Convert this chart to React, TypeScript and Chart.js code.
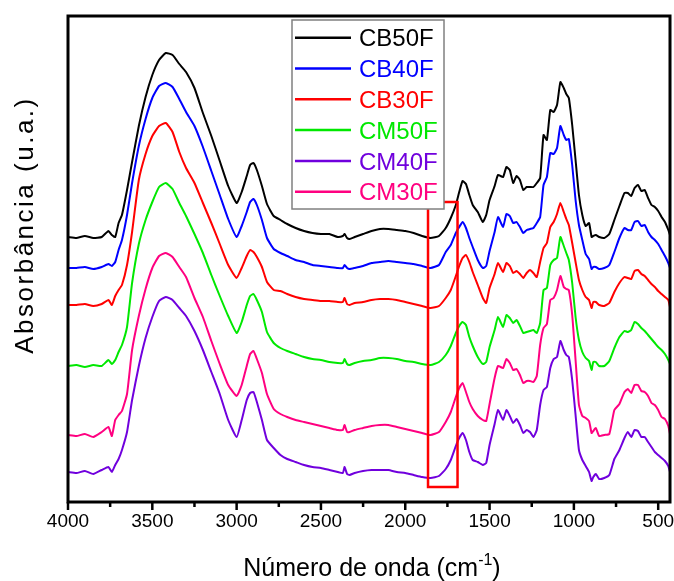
import React, { useEffect, useRef } from 'react';
import { Chart, registerables } from 'chart.js';

Chart.register(...registerables);

// Wavenumbers (cm-1)
const WAVENUMBERS = [
  4000, 3950, 3900, 3850, 3800, 3760, 3740, 3720, 3700, 3680,
  3650, 3620, 3580, 3540, 3500, 3460, 3420, 3380, 3340, 3300,
  3250, 3200, 3150, 3100, 3050, 3000, 2970, 2940, 2920, 2900,
  2880, 2850, 2820, 2780, 2740, 2700, 2650, 2600, 2550, 2500,
  2450, 2400, 2370, 2360, 2345, 2330, 2300, 2250, 2200, 2150,
  2100, 2050, 2000, 1950, 1900, 1850, 1800, 1760, 1730, 1700,
  1680, 1660, 1640, 1620, 1600, 1570, 1540, 1520, 1500, 1470,
  1450, 1420, 1400, 1380, 1360, 1340, 1320, 1300, 1280, 1260,
  1240, 1220, 1200, 1180, 1160, 1140, 1120, 1100, 1080, 1060,
  1045, 1030, 1010, 990, 970, 950, 930, 910, 895, 885,
  870, 850, 820, 790, 760, 730, 700, 680, 660, 640,
  620, 600, 580, 560, 540, 520, 500, 480, 460, 440,
  430,
];

// Absorbance (arbitrary units, spectra vertically offset)
const CB50F = [
  265, 264, 266, 264, 265, 271, 267, 265, 279, 287,
  312, 340, 376, 405, 427, 442, 449, 447, 438, 430,
  414, 389, 366, 341, 316, 299, 310, 326, 337, 339,
  332, 316, 298, 286, 282, 278, 274, 271, 269, 268,
  268, 265, 266, 268, 264, 263, 265, 268, 271, 273,
  273, 272, 271, 269, 266, 264, 266, 274, 284, 297,
  310, 321, 318, 307, 297, 290, 280, 287, 302, 316,
  327, 325, 335, 332, 319, 326, 322, 312, 315, 315,
  315, 319, 324, 367, 362, 392, 390, 397, 420, 414,
  408, 404, 377, 342, 307, 287, 276, 279, 265, 266,
  267, 265, 264, 268, 282, 296, 309, 309, 306, 314,
  317, 311, 312, 304, 297, 295, 291, 285, 280, 272,
  267,
];
const CB40F = [
  234, 234, 235, 233, 235, 238, 236, 240, 252, 262,
  287, 319, 356, 383, 404, 416, 419, 415, 403, 390,
  376, 355, 331, 307, 283, 265, 276, 290, 300, 303,
  297, 282, 264, 253, 249, 246, 242, 240, 237, 236,
  235, 234, 234, 237, 234, 233, 234, 236, 239, 240,
  241, 240, 239, 238, 236, 234, 237, 250, 257, 269,
  275, 280, 274, 264, 255, 242, 234, 236, 251, 270,
  285, 275, 288, 286, 279, 280, 275, 269, 272, 273,
  274, 279, 285, 317, 325, 349, 348, 354, 376, 367,
  362, 363, 337, 302, 277, 262, 248, 243, 233, 235,
  235, 233, 234, 237, 250, 264, 274, 272, 272, 280,
  281, 276, 277, 270, 265, 262, 258, 252, 246, 239,
  234,
];
const CB30F = [
  197, 197, 198, 196, 198, 202, 197, 206, 212, 217,
  237, 270, 322, 348, 366, 376, 379, 370, 350, 334,
  319, 299, 279, 258, 237, 224, 234, 246, 252, 250,
  245, 235, 220, 212, 211, 208, 205, 203, 202, 201,
  201, 200, 200, 204, 198, 197, 199, 200, 202, 203,
  203, 202, 200, 198, 196, 194, 196, 204, 212, 226,
  236, 244, 247, 240, 230, 217, 204, 199, 214, 228,
  239, 230, 239, 236, 229, 231, 228, 224, 229, 232,
  229, 225, 240, 254, 259, 275, 280, 288, 299, 290,
  283, 277, 259, 240, 222, 212, 205, 202, 194, 200,
  200, 197, 196, 199, 210, 219, 225, 224, 223, 231,
  232, 228, 226, 222, 218, 215, 211, 208, 205, 202,
  195,
];
const CM50F = [
  136, 137, 135, 137, 136, 142, 138, 142, 150, 157,
  175, 219, 258, 282, 300, 315, 319, 313, 299, 286,
  268, 249, 227, 206, 186, 169, 180, 197, 206, 208,
  202, 190, 170, 159, 154, 151, 148, 145, 143, 142,
  140, 139, 139, 143, 138, 137, 139, 141, 142, 144,
  144, 143, 141, 140, 138, 137, 140, 147, 156, 169,
  176, 180, 177, 165, 156, 145, 138, 140, 155, 172,
  185, 175, 187, 184, 179, 182, 176, 169, 170, 171,
  172, 169, 179, 212, 214, 237, 242, 244, 265, 256,
  249, 242, 219, 185, 162, 150, 144, 141, 132, 140,
  140, 136, 136, 141, 154, 165, 171, 170, 172, 180,
  178, 174, 171, 167, 163, 159, 155, 152, 148, 142,
  138,
];
const CM40F = [
  30, 29, 31, 28, 32, 35, 30, 37, 43, 52,
  70, 102, 136, 164, 185, 201, 205, 202, 194, 186,
  171, 152, 130, 108, 82, 65, 82, 102, 109, 110,
  100, 82, 62, 54, 47, 43, 40, 37, 35, 34,
  32, 30, 29, 35, 28, 27, 29, 31, 32, 32,
  32, 30, 29, 27, 25, 24, 26, 33, 42, 56,
  64, 69, 62, 50, 42, 40, 37, 39, 57, 78,
  92, 82, 92, 86, 79, 83, 77, 69, 72, 70,
  65, 72, 97, 112, 115, 134, 143, 145, 161, 152,
  147, 145, 122, 87, 52, 42, 36, 30, 21, 25,
  28, 23, 24, 27, 43, 52, 64, 70, 65, 72,
  71, 65, 65, 60, 55, 50, 47, 44, 41, 36,
  30,
];
const CM30F = [
  67, 66, 68, 65, 70, 75, 66, 82, 87, 91,
  108, 152, 186, 213, 234, 246, 249, 245, 235, 225,
  204, 185, 161, 138, 117, 106, 117, 136, 148, 151,
  143, 129, 108, 93, 88, 85, 82, 80, 78, 76,
  74, 72, 72, 77, 70, 70, 72, 74, 76, 77,
  77, 75, 73, 71, 69, 67, 70, 80, 90, 105,
  114, 119, 110, 100, 93, 86, 82, 81, 98, 124,
  136, 134, 143, 139, 132, 133, 127, 119, 121, 121,
  120, 126, 157, 174, 178, 202, 204, 212, 226, 215,
  213, 212, 187, 142, 97, 86, 84, 81, 69, 71,
  74, 66, 67, 68, 92, 98, 110, 113, 109, 117,
  117, 111, 110, 106, 99, 97, 92, 85, 83, 76,
  68,
];

const SERIES_LABELS = ['CB50F', 'CB40F', 'CB30F', 'CM50F', 'CM40F', 'CM30F'];
const SERIES_VALUES = [CB50F, CB40F, CB30F, CM50F, CM40F, CM30F];
const SERIES_COLORS = ['#000000', '#0000FF', '#FF0000', '#00E800', '#7000DD', '#FF0080'];

const X_MIN = 430;
const X_MAX = 4000;
const Y_MIN = 0;
const Y_MAX = 486;
const X_TICK_STEP = 250;
const X_LABEL_STEP = 500;
const HIGHLIGHT_X = [1865, 1690];
const HIGHLIGHT_Y = [15, 300];

const X_TITLE = 'Número de onda (cm';
const X_TITLE_SUP = '-1';
const Y_TITLE = 'Absorbância (u.a.)';
const FONT = "'Liberation Sans', Arial, sans-serif";

const decorPlugin = {
  id: 'decor',
  afterDatasetsDraw(chart: any) {
    const { ctx, scales } = chart;
    const x = scales.x;
    const y = scales.y;
    ctx.save();
    const rx1 = x.getPixelForValue(HIGHLIGHT_X[0]);
    const rx2 = x.getPixelForValue(HIGHLIGHT_X[1]);
    const ry1 = y.getPixelForValue(HIGHLIGHT_Y[1]);
    const ry2 = y.getPixelForValue(HIGHLIGHT_Y[0]);
    ctx.strokeStyle = '#FF0000';
    ctx.lineWidth = 2.5;
    ctx.strokeRect(rx1, ry1, rx2 - rx1, ry2 - ry1);
    ctx.restore();
  },
  afterDraw(chart: any) {
    const { ctx, chartArea, scales } = chart;
    const { left, right, top, bottom } = chartArea;
    const x = scales.x;
    ctx.save();
    // frame
    ctx.strokeStyle = '#000';
    ctx.lineWidth = 3;
    ctx.strokeRect(left, top, right - left, bottom - top);
    // ticks
    ctx.lineWidth = 2.5;
    x.ticks.forEach((t: any) => {
      const px = x.getPixelForValue(t.value);
      const major = t.value % X_LABEL_STEP === 0;
      ctx.beginPath();
      ctx.moveTo(px, bottom);
      ctx.lineTo(px, bottom + (major ? 8 : 5));
      ctx.stroke();
    });
    // legend
    const lx = 292, ly = 20, lw = 152, lh = 189;
    ctx.fillStyle = '#fff';
    ctx.fillRect(lx, ly, lw, lh);
    ctx.strokeStyle = '#808080';
    ctx.lineWidth = 1.5;
    ctx.strokeRect(lx, ly, lw, lh);
    ctx.font = `24px ${FONT}`;
    ctx.textBaseline = 'alphabetic';
    ctx.textAlign = 'left';
    SERIES_LABELS.forEach((lab, i) => {
      const cy = 37.7 + i * 30.8;
      ctx.strokeStyle = SERIES_COLORS[i];
      ctx.lineWidth = 2.5;
      ctx.beginPath();
      ctx.moveTo(295, cy);
      ctx.lineTo(351, cy);
      ctx.stroke();
      ctx.fillStyle = SERIES_COLORS[i];
      ctx.fillText(lab, 359, cy + 8.6);
    });
    // x title
    ctx.fillStyle = '#000';
    ctx.font = `25px ${FONT}`;
    const w1 = ctx.measureText(X_TITLE).width;
    ctx.font = `16px ${FONT}`;
    const w2 = ctx.measureText(X_TITLE_SUP).width;
    ctx.font = `25px ${FONT}`;
    const w3 = ctx.measureText(')').width;
    const cx = 372;
    let sx = cx - (w1 + w2 + w3) / 2;
    const base = 576;
    ctx.fillText(X_TITLE, sx, base);
    sx += w1;
    ctx.font = `16px ${FONT}`;
    ctx.fillText(X_TITLE_SUP, sx, base - 11);
    sx += w2;
    ctx.font = `25px ${FONT}`;
    ctx.fillText(')', sx, base);
    // y title
    ctx.translate(33, 225);
    ctx.rotate(-Math.PI / 2);
    ctx.textAlign = 'center';
    ctx.font = `26px ${FONT}`;
    try { (ctx as any).letterSpacing = '2.5px'; } catch (e) { /* ignore */ }
    ctx.fillText(Y_TITLE, 0, 0);
    ctx.restore();
  },
};

export default function App() {
  const ref = useRef<HTMLCanvasElement | null>(null);
  useEffect(() => {
    document.body.style.margin = '0';
    const canvas = ref.current;
    if (!canvas) return;
    const chart = new Chart(canvas, {
      type: 'line',
      data: {
        datasets: SERIES_LABELS.map((label, i) => ({
          label,
          data: WAVENUMBERS.map((w, j) => ({ x: w, y: SERIES_VALUES[i][j] })),
          borderColor: SERIES_COLORS[i],
          backgroundColor: SERIES_COLORS[i],
          borderWidth: 2,
          pointRadius: 0,
          tension: 0.15,
          fill: false,
        })),
      },
      options: {
        responsive: false,
        animation: false,
        layout: { padding: { left: 68, right: 4, top: 16, bottom: 0 } },
        plugins: { legend: { display: false }, tooltip: { enabled: false } },
        scales: {
          x: {
            type: 'linear',
            reverse: true,
            min: X_MIN,
            max: X_MAX,
            grid: { display: false, drawTicks: false },
            border: { display: false },
            ticks: {
              stepSize: X_TICK_STEP,
              includeBounds: false,
              autoSkip: false,
              maxRotation: 0,
              padding: 8,
              color: '#000',
              font: { family: FONT, size: 19 },
              callback: (v: any) => (Number(v) % X_LABEL_STEP === 0 ? String(v) : ''),
            },
            afterFit: (s: any) => {
              s.height = 79;
              s.paddingLeft = 0;
              s.paddingRight = 0;
            },
          },
          y: { display: false, min: Y_MIN, max: Y_MAX },
        },
      },
      plugins: [decorPlugin],
    } as any);
    return () => chart.destroy();
  }, []);
  return (
    <div style={{ position: 'absolute', left: 0, top: 0, width: 674, height: 581 }}>
      <canvas ref={ref} width={674} height={581} style={{ display: 'block' }} />
    </div>
  );
}
